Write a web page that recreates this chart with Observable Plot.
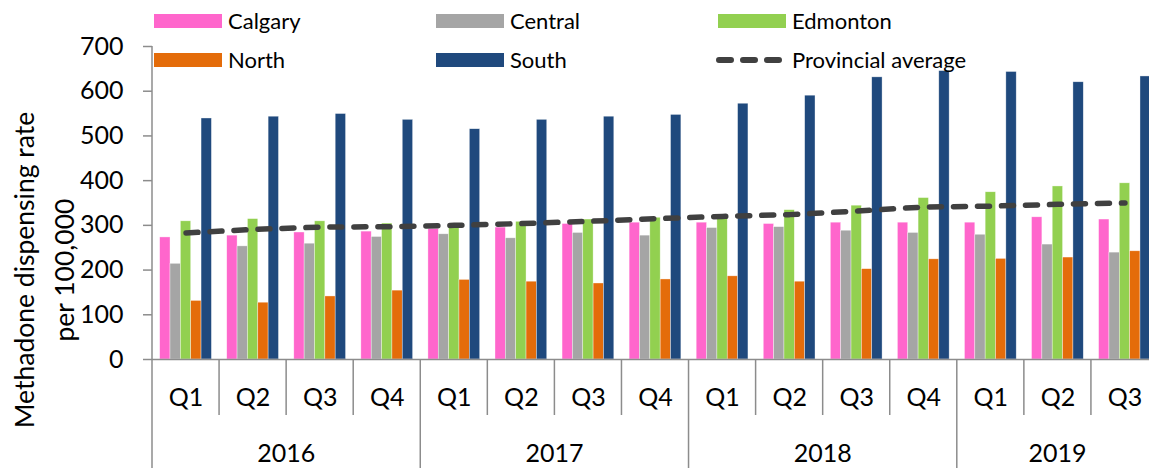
<!DOCTYPE html>
<html>
<head>
<meta charset="utf-8">
<script src="https://cdn.jsdelivr.net/npm/d3@7"></script>
<script src="https://cdn.jsdelivr.net/npm/@observablehq/plot@0.6"></script>
<style>
  html, body { margin: 0; padding: 0; background: #fff; overflow: hidden; }
  #wrap { position: relative; width: 1149px; height: 468px; overflow: hidden; font-family: Lato, sans-serif; background: #fff; }
  #wrap > svg { position: absolute; left: 0; top: 0; max-width: none; }
  .sw { position: absolute; width: 68px; height: 14px; }
  .lt { position: absolute; font-size: 22px; line-height: 22px; color: #000; white-space: nowrap; transform: translateY(-50%); }
</style>
</head>
<body>
<div id="wrap"></div>
<script>
// ---------------- data ----------------
const years = ["2016", "2017", "2018", "2019"];
const periodYear = ["2016","2016","2016","2016","2017","2017","2017","2017","2018","2018","2018","2018","2019","2019","2019"];
const periodQuarter = ["Q1","Q2","Q3","Q4","Q1","Q2","Q3","Q4","Q1","Q2","Q3","Q4","Q1","Q2","Q3"];
const regions = ["Calgary", "Central", "Edmonton", "North", "South"];
const calgary  = [273, 277, 284, 286, 292, 295, 303, 306, 306, 303, 306, 306, 306, 318, 313];
const central  = [214, 253, 259, 274, 280, 271, 283, 277, 294, 296, 288, 283, 279, 257, 239];
const edmonton = [309, 314, 309, 304, 297, 308, 313, 317, 318, 334, 344, 361, 374, 387, 394];
const north    = [131, 127, 141, 154, 178, 174, 170, 179, 186, 174, 202, 224, 225, 228, 242];
const south    = [539, 543, 549, 536, 515, 536, 543, 547, 572, 590, 631, 645, 643, 620, 633];
const provincialAverage = [283, 291, 296, 297, 300, 304, 309, 315, 320, 324, 332, 341, 343, 347, 350];
const yTicks = [0, 100, 200, 300, 400, 500, 600, 700];
const averageLabel = "Provincial average";
const yTitle = "Methadone dispensing rate\nper 100,000";

// ---------------- styles / layout ----------------
const regionColors = ["#FF66CC", "#A5A5A5", "#92D050", "#E46C0A", "#1F497D"];
const AVG = "#404040";
const AXIS = "#8c8c8c";
const W = 1158, H = 468, ML = 152, MR = 0, MT = 46, MB = 109;

const keys = periodYear.map((y, i) => y + " " + periodQuarter[i]);
const regionValues = [calgary, central, edmonton, north, south];
const barData = regions.flatMap((r, j) => keys.map((k, i) => ({key: k, region: r, value: regionValues[j][i]})));
const periods = keys.map((k, i) => ({key: k, year: periodYear[i], quarter: periodQuarter[i], avg: provincialAverage[i]}));

const common = {
  width: W, height: H,
  marginLeft: ML, marginRight: MR, marginTop: MT, marginBottom: MB,
  style: {background: "transparent", maxWidth: "none", fontFamily: "Lato, sans-serif", overflow: "visible"}
};

// bars (grouped via facets)
const plotA = Plot.plot({
  ...common,
  fx: {domain: keys, padding: 0, round: false, axis: null, label: null},
  x: {domain: regions, paddingInner: 0, paddingOuter: 0.74, round: false, axis: null},
  y: {domain: [0, 700], axis: null},
  color: {domain: regions, range: regionColors},
  marks: [
    Plot.barY(barData, {fx: "key", x: "region", y: "value", fill: "region", stroke: "#ffffff", strokeWidth: 0.6, strokeOpacity: 0.6})
  ]
});

// axes + provincial average line
const plotB = Plot.plot({
  ...common,
  x: {type: "band", domain: keys, padding: 0, round: false, axis: null},
  y: {domain: [0, 700], axis: null},
  marks: [
    Plot.axisY(yTicks, {anchor: "left", tickSize: 9, tickPadding: 20, fontSize: 25, stroke: AXIS, strokeWidth: 1.5, fill: "#000", label: null}),
    Plot.ruleY([0], {stroke: AXIS, strokeWidth: 1.5}),
    Plot.text(periods, {x: "key", text: "quarter", frameAnchor: "bottom", dy: 38, fontSize: 25, fill: "#000", lineAnchor: "middle"}),
    Plot.text([yTitle], {text: d => d, frameAnchor: "left", rotate: -90, dx: -111, dy: 67, textAnchor: "middle", lineAnchor: "middle", lineHeight: 1.5, fontSize: 26.5, fill: "#000"}),
    Plot.lineY(periods, {x: "key", y: "avg", stroke: AVG, strokeWidth: 5.5, strokeDasharray: "12 12", strokeLinecap: "round"})
  ]
});

// category separators and year labels, placed with Plot's own scales
const sx = plotB.scale("x"), sy = plotB.scale("y");
const svgB = d3.select(plotB);
const g = svgB.insert("g", ":first-child").attr("stroke", AXIS).attr("stroke-width", 1.5);
g.append("line").attr("x1", sx.apply(keys[0])).attr("x2", sx.apply(keys[0]))
  .attr("y1", sy.apply(700)).attr("y2", H);
keys.forEach((k, i) => {
  if (i === 0) return;
  const yearStart = periodYear[i] !== periodYear[i - 1];
  const x = sx.apply(k);
  g.append("line").attr("x1", x).attr("x2", x)
    .attr("y1", sy.apply(0)).attr("y2", yearStart ? H : sy.apply(0) + 56);
});
const lastX = sx.apply(keys[keys.length - 1]) + sx.bandwidth;
g.append("line").attr("x1", lastX).attr("x2", lastX).attr("y1", sy.apply(0)).attr("y2", H);
const yg = svgB.append("g").attr("font-size", 25).attr("text-anchor", "middle").attr("fill", "#000");
years.forEach(yr => {
  const ks = keys.filter((k, i) => periodYear[i] === yr);
  const x0 = sx.apply(ks[0]), x1 = sx.apply(ks[ks.length - 1]) + sx.bandwidth;
  yg.append("text").attr("x", (x0 + x1) / 2).attr("y", sy.apply(0) + 94).attr("dy", "0.35em").text(yr);
});

const wrap = document.getElementById("wrap");
wrap.appendChild(plotA);
wrap.appendChild(plotB);

// legend
const legendItems = [...regions, averageLabel];
const legendColors = [...regionColors, AVG];
const colX = [154, 436, 718], rowY = [21, 60];
legendItems.forEach((name, i) => {
  const c = i % 3, r = Math.floor(i / 3);
  const x = colX[c], y = rowY[r];
  if (name === averageLabel) {
    const s = d3.select(wrap).append("svg").attr("width", 72).attr("height", 14)
      .style("position", "absolute").style("left", (x - 2) + "px").style("top", (y - 7) + "px");
    s.append("line").attr("x1", 3).attr("x2", 70).attr("y1", 7).attr("y2", 7)
      .attr("stroke", AVG).attr("stroke-width", 6).attr("stroke-dasharray", "12 12").attr("stroke-linecap", "round");
  } else {
    const sw = document.createElement("div");
    sw.className = "sw";
    sw.style.left = x + "px"; sw.style.top = (y - 7) + "px"; sw.style.background = legendColors[i];
    wrap.appendChild(sw);
  }
  const t = document.createElement("div");
  t.className = "lt";
  t.style.left = (x + 74) + "px"; t.style.top = y + "px";
  t.textContent = name;
  wrap.appendChild(t);
});
</script>
</body>
</html>
